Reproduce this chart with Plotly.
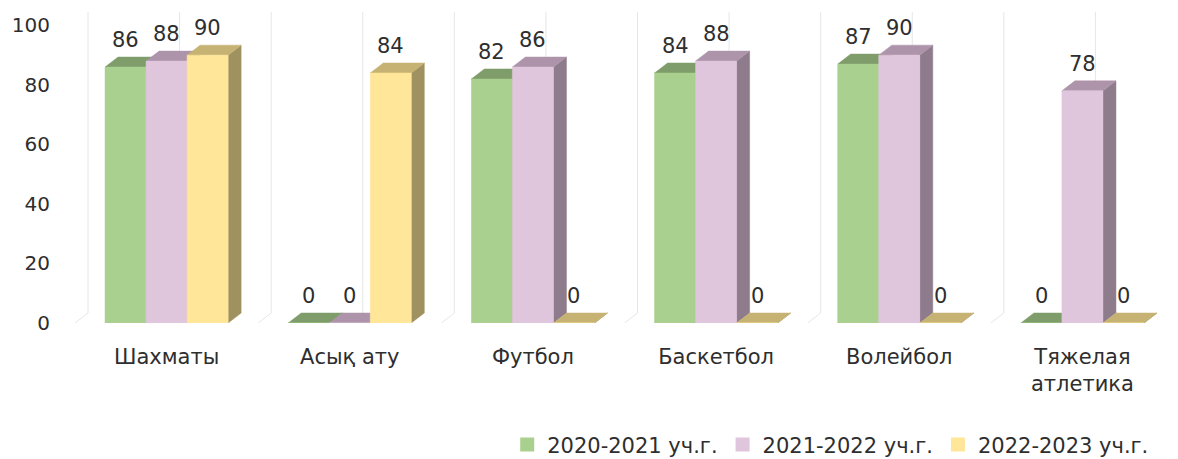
import plotly.graph_objects as go

categories = ["Шахматы", "Асық ату", "Футбол", "Баскетбол", "Волейбол", "Тяжелая<br>атлетика"]
series_names = ["2020-2021 уч.г.", "2021-2022 уч.г.", "2022-2023 уч.г."]
values_2020 = [86, 0, 82, 84, 87, 0]
values_2021 = [88, 0, 86, 88, 90, 78]
values_2022 = [90, 84, 0, 0, 0, 0]
y_ticks = [0, 20, 40, 60, 80, 100]

series_values = [values_2020, values_2021, values_2022]
front_colors = ["#A9D08E", "#E0C6DD", "#FFE699"]
top_colors = ["#7F9D6B", "#AE94AB", "#C6B373"]
side_colors = ["#6E8A5C", "#8E7B8C", "#A09160"]

FONT = "DejaVu Sans"
FS = 21
TXT = "#2E2E2E"
W = 0.224      # bar width (category units)
DX = 0.071     # depth offset x (category units)
DY = 3.36      # depth offset y (value units)
YTOP = 104.5

fig = go.Figure()

# back-wall / floor gridlines
gx, gy = [], []
for k in range(13):
    xk = -0.5 + 0.5 * k
    gx += [xk, xk + DX, xk + DX, None]
    gy += [0, DY, YTOP, None]
fig.add_trace(go.Scatter(x=gx, y=gy, mode="lines", line=dict(color="#E6E6E6", width=1),
                         hoverinfo="skip", showlegend=False))

annotations = []
for s, vals in enumerate(series_values):
    sx, sy, tx, ty, fx, fy = [], [], [], [], [], []
    for i, h in enumerate(vals):
        x0 = i - 1.5 * W + s * W
        x1 = x0 + W
        sx += [x1, x1 + DX, x1 + DX, x1, x1, None]
        sy += [0, DY, h + DY, h, 0, None]
        tx += [x0, x1, x1 + DX, x0 + DX, x0, None]
        ty += [h, h, h + DY, h + DY, h, None]
        fx += [x0, x1, x1, x0, x0, None]
        fy += [0, 0, h, h, 0, None]
        annotations.append(dict(x=(x0 + x1) / 2, y=h + DY, text=str(h), showarrow=False,
                                xref="x", yref="y", yanchor="middle", yshift=17,
                                font=dict(family=FONT, size=FS, color=TXT)))
    for xs, ys, col in [(sx, sy, side_colors[s]), (tx, ty, top_colors[s]), (fx, fy, front_colors[s])]:
        fig.add_trace(go.Scatter(x=xs, y=ys, mode="lines", fill="toself", fillcolor=col,
                                 line=dict(color=col, width=0.5), hoverinfo="skip",
                                 showlegend=False))

for s, name in enumerate(series_names):
    fig.add_trace(go.Scatter(x=[None], y=[None], mode="markers", name=name,
                             marker=dict(symbol="square", size=14, color=front_colors[s])))

# the page places the figure 8px from the top-left corner, so the figure is
# sized and margined to fit the 1178x459 window
fig.update_layout(
    width=1170, height=451,
    margin=dict(l=67, r=4, t=4, b=136, autoexpand=False),
    paper_bgcolor="white", plot_bgcolor="white",
    font=dict(family=FONT, size=FS, color=TXT),
    annotations=annotations,
    showlegend=True,
    legend=dict(orientation="h", x=0.982, xanchor="right", y=-0.392, yanchor="middle",
                font=dict(family=FONT, size=FS, color=TXT), itemwidth=30,
                bgcolor="rgba(0,0,0,0)"),
    xaxis=dict(range=[-0.5, 5.5], tickvals=list(range(len(categories))), ticktext=categories,
               showgrid=False, zeroline=False, showline=False, ticks="", automargin=False,
               ticklabelstandoff=19, tickfont=dict(family=FONT, size=FS, color=TXT)),
    yaxis=dict(range=[0, YTOP], tickvals=y_ticks, showgrid=False, zeroline=False,
               showline=False, ticks="", ticklabelstandoff=24, automargin=False,
               tickfont=dict(family=FONT, size=20, color=TXT)),
)

fig.write_html("out.html")
